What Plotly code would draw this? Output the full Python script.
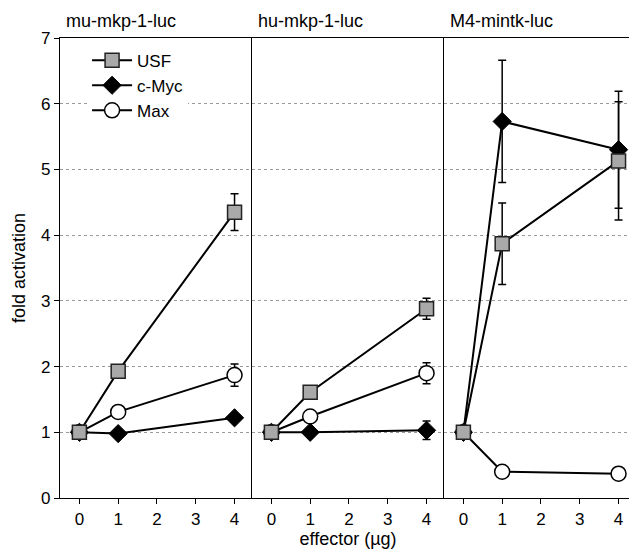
import plotly.graph_objects as go
from plotly.subplots import make_subplots

# ---- data ----
panel_titles = ["mu-mkp-1-luc", "hu-mkp-1-luc", "M4-mintk-luc"]
doses = [0, 1, 4]
x_ticks = [0, 1, 2, 3, 4]
y_ticks = [0, 1, 2, 3, 4, 5, 6, 7]

usf_vals = [[1.0, 1.93, 4.35], [1.0, 1.61, 2.88], [1.0, 3.87, 5.13]]
usf_err = [[0, 0, 0.28], [0, 0.10, 0.16], [0, 0.62, 0.90]]
myc_vals = [[1.0, 0.98, 1.22], [1.0, 1.00, 1.03], [1.0, 5.73, 5.30]]
myc_err = [[0, 0, 0], [0, 0, 0.14], [0, 0.93, 0.89]]
max_vals = [[1.0, 1.31, 1.87], [1.0, 1.24, 1.90], [1.0, 0.40, 0.37]]
max_err = [[0, 0, 0.17], [0, 0, 0.16], [0, 0, 0]]

FONT = "Liberation Sans, Arial, sans-serif"

fig = make_subplots(rows=1, cols=3, shared_yaxes=True, horizontal_spacing=0)

series = [
    ("Max", max_vals, max_err, dict(symbol="circle", size=15, color="white",
                                     line=dict(color="black", width=1.5))),
    ("c-Myc", myc_vals, myc_err, dict(symbol="diamond", size=14, color="black",
                                       line=dict(color="black", width=1))),
    ("USF", usf_vals, usf_err, dict(symbol="square", size=14, color="#a9a9a9",
                                     line=dict(color="#222222", width=1.5))),
]

for p in range(3):
    for name, vals, errs, marker in series:
        fig.add_trace(go.Scatter(
            x=doses, y=vals[p], name=name, mode="lines+markers",
            line=dict(color="black", width=2), marker=marker,
            error_y=dict(type="data", array=errs[p], visible=True,
                         color="black", thickness=1.5, width=4),
            showlegend=(p == 0), legendgroup=name,
        ), row=1, col=p + 1)

for p in range(3):
    fig.update_xaxes(
        range=[-0.5, 4.45], tickvals=x_ticks, ticks="outside", ticklen=5,
        tickcolor="black", showline=True, linecolor="black", linewidth=1.2,
        mirror=True, showgrid=False, zeroline=False,
        tickfont=dict(family=FONT, size=17, color="black"),
        row=1, col=p + 1)
    fig.update_yaxes(
        range=[0, 7], tickvals=y_ticks, showline=True, linecolor="black",
        linewidth=1.2, mirror=(p == 2), showgrid=True, gridcolor="#9a9a9a",
        griddash="3px,3px", gridwidth=1, zeroline=False,
        row=1, col=p + 1)
    fig.add_annotation(
        text=panel_titles[p], xref=f"x{'' if p == 0 else p + 1} domain",
        yref="paper", x=0.02, y=1.0, yshift=5, xanchor="left", yanchor="bottom",
        showarrow=False, font=dict(family=FONT, size=18, color="black"))

fig.update_yaxes(ticks="outside", ticklen=5, tickcolor="black",
                 tickfont=dict(family=FONT, size=17, color="black"),
                 title=dict(text="fold activation", standoff=10,
                            font=dict(family=FONT, size=18, color="black")),
                 row=1, col=1)
fig.update_xaxes(title=dict(text="effector (µg)", standoff=4,
                            font=dict(family=FONT, size=18, color="black")),
                 row=1, col=2)

# page body has an 8px margin; size the figure so the plot lands where the reference has it
fig.update_layout(
    width=629, height=544,
    margin=dict(l=52, r=1, t=30, b=54),
    plot_bgcolor="white", paper_bgcolor="white",
    font=dict(family=FONT, size=17, color="black"),
    legend=dict(x=0.047, y=0.99, xref="paper", yref="paper",
                xanchor="left", yanchor="top", traceorder="reversed",
                bgcolor="white", borderwidth=0, itemwidth=40,
                font=dict(family=FONT, size=17, color="black"),
                tracegroupgap=0),
)

fig.write_html("out.html")
